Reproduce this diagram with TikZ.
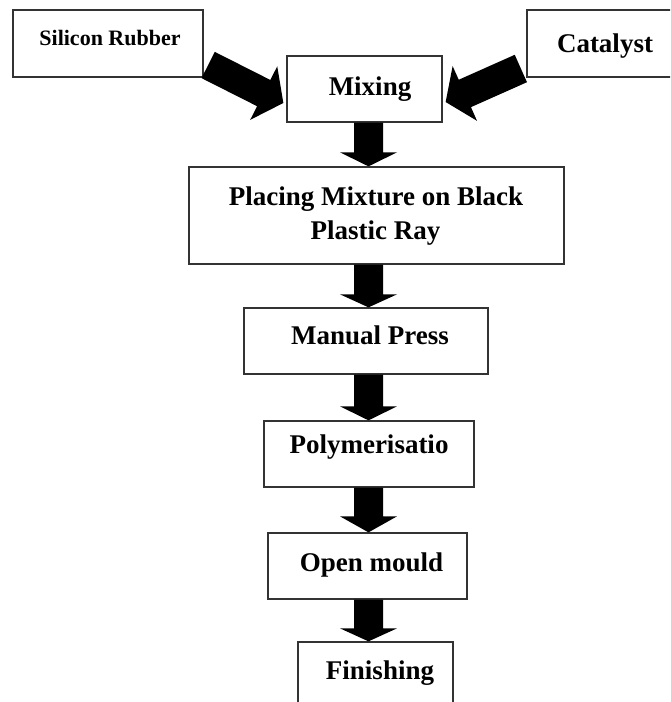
\documentclass[tikz,border=0pt]{standalone}
\usepackage{fontspec}
\setmainfont{Liberation Serif}
\usetikzlibrary{calc}
\tikzset{
  box/.style={draw=black!80, line width=1.3pt, rectangle, inner sep=0pt, fill=white},
  lbl/.style={font=\bfseries\fontsize{27}{33}\selectfont, anchor=base, inner sep=0pt},
  smalllbl/.style={font=\bfseries\fontsize{22}{26}\selectfont, anchor=base, inner sep=0pt},
  arrowfill/.style={fill=black}
}
% #1 tail, #2 tip, #3 half shaft width, #4 half head width, #5 head length
\newcommand\fatarrow[5]{%
  \coordinate (fa-h) at ($(#2)!#5!(#1)$);
  \fill[arrowfill] ($(#1)!#3!90:(#2)$) -- ($(fa-h)!#3!-90:(#1)$) -- ($(fa-h)!#4!-90:(#1)$)
    -- (#2) -- ($(fa-h)!#4!90:(#1)$) -- ($(fa-h)!#3!90:(#1)$) -- ($(#1)!#3!-90:(#2)$) -- cycle;}
\begin{document}
\begin{tikzpicture}[x=1pt,y=-1pt]
\clip (0,0) rectangle (670,702);
\fill[white] (0,0) rectangle (670,702);

% boxes
\node[box, minimum width=190pt, minimum height=67pt] (sil) at (108,43.5) {};
\node[box, minimum width=145pt, minimum height=67pt] (cat) at (599.5,43.5) {};
\node[box, minimum width=155pt, minimum height=66pt] (mix) at (364.5,89) {};
\node[box, minimum width=375pt, minimum height=97pt] (place) at (376.5,215.5) {};
\node[box, minimum width=244pt, minimum height=66pt] (man) at (366,341) {};
\node[box, minimum width=210pt, minimum height=66pt] (poly) at (369,454) {};
\node[box, minimum width=199pt, minimum height=66pt] (open) at (367.5,566) {};
\node[box, minimum width=155pt, minimum height=90pt] (fin) at (375.5,687) {};

% texts
\node[smalllbl] (sil-t) at (110,45) {Silicon Rubber};
\node[lbl] (cat-t) at (605,52) {Catalyst};
\node[lbl] (mix-t) at (370,95) {Mixing};
\node[lbl] (place-t1) at (376,205) {Placing Mixture on Black};
\node[lbl] (place-t2) at (375.5,239) {Plastic Ray};
\node[lbl] (man-t) at (370,344) {Manual Press};
\node[lbl] (poly-t) at (369,453) {Polymerisatio};
\node[lbl] (open-t) at (371.5,571) {Open mould};
\node[lbl] (fin-t) at (380,679) {Finishing};

% diagonal arrows
\coordinate (s1) at ($(sil.east)+(4.5,21.5)$);
\coordinate (s2) at ($(mix.west)+(-3,14)$);
\fatarrow{s1}{s2}{14.7pt}{30pt}{22pt}
\coordinate (c1) at ($(cat.west)+(-5.5,25)$);
\coordinate (c2) at ($(mix.east)+(3,13)$);
\fatarrow{c1}{c2}{15pt}{30pt}{21pt}

% vertical arrows
\coordinate (ax) at (368.5,0);
\fatarrow{mix.south -| ax}{place.north -| ax}{14.5pt}{28.5pt}{14pt}
\fatarrow{place.south -| ax}{man.north -| ax}{14.5pt}{28.5pt}{13pt}
\fatarrow{man.south -| ax}{poly.north -| ax}{14.5pt}{28.5pt}{14pt}
\fatarrow{poly.south -| ax}{open.north -| ax}{14.5pt}{28.5pt}{16pt}
\fatarrow{open.south -| ax}{fin.north -| ax}{14.5pt}{28.5pt}{13pt}
\end{tikzpicture}
\end{document}
